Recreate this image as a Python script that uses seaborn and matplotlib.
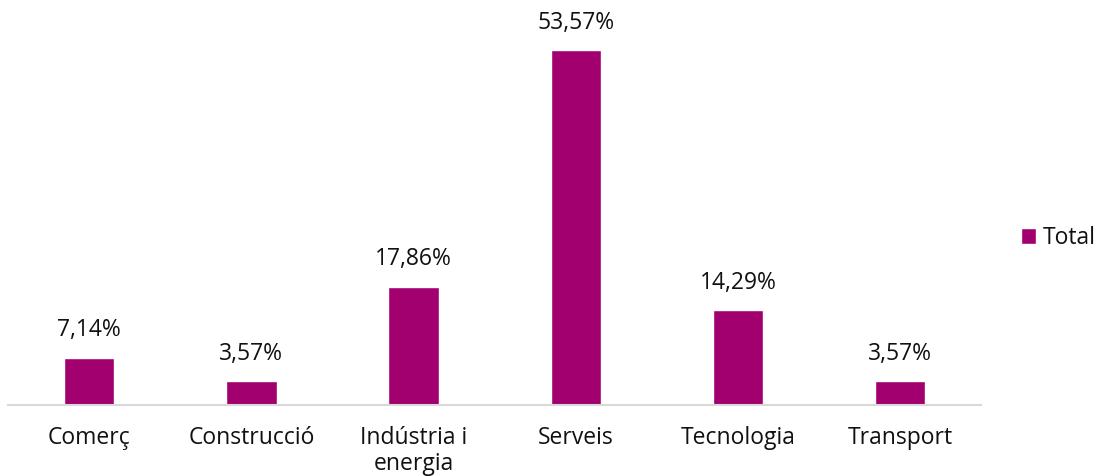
import matplotlib
matplotlib.use("Agg")
import matplotlib.pyplot as plt
import seaborn as sns
import pandas as pd

categories = ["Comerç", "Construcció", "Indústria i\nenergia", "Serveis", "Tecnologia", "Transport"]
values = [7.14, 3.57, 17.86, 53.57, 14.29, 3.57]
series_name = "Total"

bar_color = "#A1006E"
text_color = "#111111"
font_size = 16.5

sns.set_theme(style="white")
plt.rcParams["font.family"] = ["Open Sans", "DejaVu Sans"]

df = pd.DataFrame({"categoria": categories, "valor": values, "serie": series_name})

fig = plt.figure(figsize=(11.01, 4.76), dpi=100)
ax = fig.add_axes([0.0073, 0.149, 0.884, 0.836])

sns.barplot(data=df, x="categoria", y="valor", hue="serie", palette=[bar_color],
            width=0.31, ax=ax, saturation=1)

labels = [f"{v:.2f}".replace(".", ",") + "%" for v in values]
ax.bar_label(ax.containers[0], labels=labels, padding=11, fontsize=font_size, color=text_color)

ax.set_ylim(0, 60)
ax.set_xlim(-0.5, len(categories) - 0.5)
ax.set_xlabel("")
ax.set_ylabel("")
ax.set_yticks([])
ax.tick_params(axis="x", labelsize=font_size, colors=text_color, length=0, pad=15)
for lbl in ax.get_xticklabels():
    lbl.set_linespacing(1.1)
for side in ["top", "right", "left"]:
    ax.spines[side].set_visible(False)
ax.spines["bottom"].set_color("#D9D9D9")
ax.spines["bottom"].set_linewidth(1.5)

leg = ax.legend(loc="center left", bbox_to_anchor=(1.02, 0.42), frameon=False,
                fontsize=font_size, handlelength=0.65, handleheight=0.65, handletextpad=0.3)
for t in leg.get_texts():
    t.set_color(text_color)

fig.savefig("out.png", dpi=100)
